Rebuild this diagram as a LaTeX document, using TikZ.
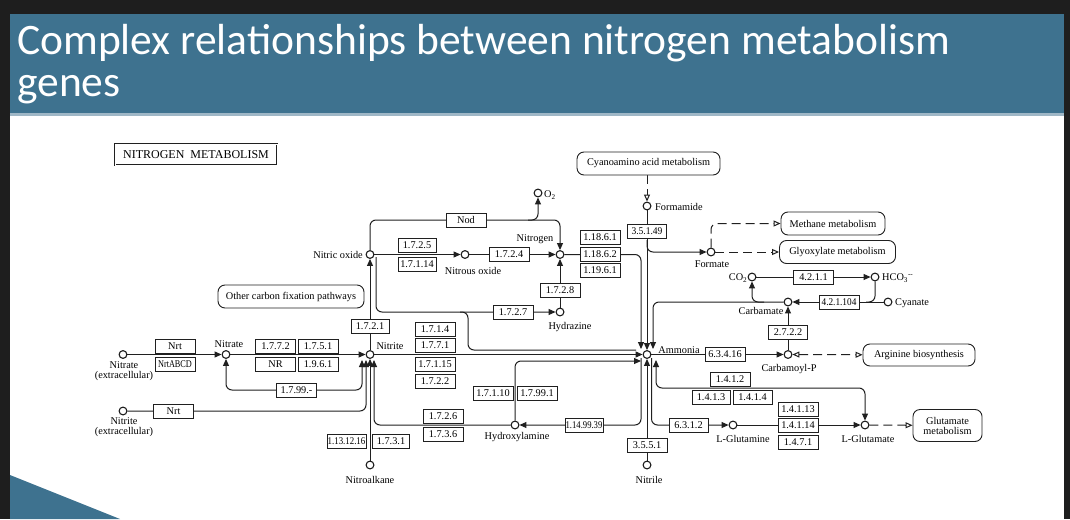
\documentclass[tikz,border=0pt]{standalone}
\usepackage{fontspec}
\usepackage{graphicx}
\usetikzlibrary{arrows.meta}
\newfontfamily\keggfont{Liberation Serif}
\newfontfamily\slidefont{Carlito}
\newcommand\kf{\keggfont\fontsize{10.3}{10.4}\selectfont}
\newcommand\ttlfont{\slidefont\fontsize{43.5}{48}\selectfont}
\definecolor{slidebg}{HTML}{1E1E1E}
\definecolor{titleblue}{HTML}{3E728F}
\definecolor{barline}{HTML}{9FB7C6}
\definecolor{ink}{HTML}{202020}
\pgfdeclarelayer{bg}
\pgfdeclarelayer{lines}
\pgfsetlayers{bg,lines,main}
\tikzset{
 cpd/.style={circle,draw=ink,fill=white,line width=1.1pt,minimum size=7.8pt,inner sep=0pt},
 ec/.style={draw=ink,fill=white,line width=0.85pt,minimum width=40pt,minimum height=14pt,inner sep=0pt,font=\kf},
 mapbox/.style={draw=ink,fill=white,rounded corners=7pt,line width=0.9pt,inner sep=0pt,font=\kf,align=center},
 lbl/.style={font=\kf,inner sep=0pt},
 rx/.style={draw=ink,line width=1pt,rounded corners=6pt},
 arr/.style={-{Triangle[length=7pt,width=6pt]}},
 arrs/.style={{Triangle[length=7pt,width=6pt]}-{Triangle[length=7pt,width=6pt]}},
 oarr/.style={-{Triangle[open,length=7pt,width=6pt]}},
 oarrs/.style={{Triangle[open,length=7pt,width=6pt]}-{Triangle[open,length=7pt,width=6pt]}},
 dsh/.style={dash pattern=on 9pt off 5pt},
}
\begin{document}
\begin{tikzpicture}[x=1pt,y=-1pt]
\useasboundingbox (0,0) rectangle (1070,519);
\begin{pgfonlayer}{bg}
\fill[slidebg] (0,0) rectangle (1070,519);
\fill[white] (10,14) rectangle (1064,519);
\fill[titleblue] (10,14) rectangle (1064,113);
\fill[barline] (10,113) rectangle (1064,115.5);
\fill[titleblue] (10,475) -- (120,519) -- (10,519) -- cycle;
\end{pgfonlayer}
\node[anchor=base west,inner sep=0pt,font=\ttlfont,text=white] (t1) at (17,55) {Complex relationships between nitrogen metabolism};
\node[anchor=base west,inner sep=0pt,font=\ttlfont,text=white] (t2) at (17,96) {genes};

% title box
\node[draw=ink,fill=white,line width=0.8pt,double,double distance=0.7pt,minimum width=162pt,minimum height=21pt,inner sep=0pt,font=\keggfont\fontsize{12}{12}\selectfont] (tbox) at (196,154.5) {NITROGEN\ \ METABOLISM};

% map boxes
\node[mapbox,minimum width=146pt,minimum height=23pt] (ocfp) at (291,296.5) {Other carbon fixation pathways};
\node[mapbox,minimum width=143pt,minimum height=23pt] (cyan) at (648.5,163.5) {Cyanoamino acid metabolism};
\node[mapbox,minimum width=104pt,minimum height=23pt] (meth) at (833,223.5) {Methane metabolism};
\node[mapbox,minimum width=116pt,minimum height=23pt] (glyox) at (837.5,252) {Glyoxylate metabolism};
\node[mapbox,minimum width=112pt,minimum height=22pt] (arg) at (919,355) {Arginine biosynthesis};
\node[mapbox,minimum width=69pt,minimum height=32pt,font=\keggfont\fontsize{10.3}{10}\selectfont] (glum) at (947.5,425.5) {Glutamate\\metabolism};

% compounds
\node[cpd] (nae) at (123,354.5) {};
\node[cpd] (nie) at (123,411) {};
\node[cpd] (na) at (226,354.5) {};
\node[cpd] (ni) at (370,354.5) {};
\node[cpd] (no) at (370,254.5) {};
\node[cpd] (n2o) at (465,254.5) {};
\node[cpd] (o2) at (538,193) {};
\node[cpd] (n2) at (560,254.5) {};
\node[cpd] (hz) at (560,312) {};
\node[cpd] (fmd) at (647,206) {};
\node[cpd] (fmt) at (711,252) {};
\node[cpd] (co2) at (752,277) {};
\node[cpd] (hco3) at (875,277) {};
\node[cpd] (cbm) at (788,302) {};
\node[cpd] (cyn) at (888,302) {};
\node[cpd] (am) at (647,354.5) {};
\node[cpd] (cbp) at (788,354.5) {};
\node[cpd] (hyd) at (515,425) {};
\node[cpd] (gln) at (733,425) {};
\node[cpd] (glu) at (865,425) {};
\node[cpd] (nal) at (370,465) {};
\node[cpd] (ntl) at (647,465) {};

% compound labels
\node[lbl,align=center,anchor=north] (naeL) at (124,361) {Nitrate\\(extracellular)};
\node[lbl,align=center,anchor=north] (nieL) at (124,417.5) {Nitrite\\(extracellular)};
\node[lbl] (naL) at (229,344) {Nitrate};
\node[lbl] (niL) at (390,346.5) {Nitrite};
\node[lbl,anchor=east] (noL) at (363,255) {Nitric oxide};
\node[lbl] (n2oL) at (473,271) {Nitrous oxide};
\node[lbl,anchor=west] (o2L) at (544,195) {O\textsubscript{2}};
\node[lbl] (n2L) at (535,239.5) {Nitrogen};
\node[lbl] (hzL) at (570,327) {Hydrazine};
\node[lbl,anchor=west] (fmdL) at (655,207) {Formamide};
\node[lbl] (fmtL) at (712,264) {Formate};
\node[lbl,anchor=east] (co2L) at (747.5,278) {CO\textsubscript{2}};
\node[lbl,anchor=west] (hco3L) at (882,278) {HCO\textsubscript{3}\textsuperscript{--}};
\node[lbl] (cbmL) at (761,311) {Carbamate};
\node[lbl,anchor=west] (cynL) at (895,303) {Cyanate};
\node[lbl] (amL) at (679,350) {Ammonia};
\node[lbl] (cbpL) at (789,369.5) {Carbamoyl-P};
\node[lbl] (hydL) at (517,437.5) {Hydroxylamine};
\node[lbl] (glnL) at (743,438.5) {L-Glutamine};
\node[lbl] (gluL) at (868,438.5) {L-Glutamate};
\node[lbl] (nalL) at (370,479.5) {Nitroalkane};
\node[lbl] (ntlL) at (649,479.5) {Nitrile};

% gene boxes
\node[ec] (nrtA) at (175,346.5) {Nrt};
\node[ec] (nrtB) at (175,364.5) {\scalebox{0.8}[1]{NrtABCD}};
\node[ec] (nrtC) at (173.5,411) {Nrt};
\node[ec] (e1772) at (275.5,346.5) {1.7.7.2};
\node[ec] (e1751) at (318,346.5) {1.7.5.1};
\node[ec] (enr) at (275.5,364.5) {NR};
\node[ec] (e1961) at (318,364.5) {1.9.6.1};
\node[ec] (e1799) at (296.5,390) {1.7.99.-};
\node[ec,minimum width=38pt] (e1721) at (370,326.5) {1.7.2.1};
\node[ec] (e1714) at (435,329.5) {1.7.1.4};
\node[ec] (e1771) at (435,345.5) {1.7.7.1};
\node[ec] (e17115) at (435,364.5) {1.7.1.15};
\node[ec] (e1722) at (435,381.5) {1.7.2.2};
\node[ec] (e1726) at (443,416) {1.7.2.6};
\node[ec] (e1736) at (443,434.5) {1.7.3.6};
\node[ec,minimum width=39pt] (e131216) at (346.5,441.5) {\scalebox{0.86}[1]{1.13.12.16}};
\node[ec,minimum width=37pt] (e1731) at (391,441.5) {1.7.3.1};
\node[ec] (e17110) at (493,393.5) {1.7.1.10};
\node[ec] (e17991) at (537,393.5) {1.7.99.1};
\node[ec,minimum width=38pt] (e149939) at (584,425) {\scalebox{0.84}[1]{1.14.99.39}};
\node[ec] (e3551) at (647,445.5) {3.5.5.1};
\node[ec] (nod) at (466,220) {Nod};
\node[ec,minimum width=38pt] (e1725) at (417,245.5) {1.7.2.5};
\node[ec,minimum width=38pt] (e17114) at (417,264) {1.7.1.14};
\node[ec] (e1724) at (509,254.5) {1.7.2.4};
\node[ec] (e11861) at (600,237) {1.18.6.1};
\node[ec] (e11862) at (600,254.5) {1.18.6.2};
\node[ec] (e11961) at (600,270.5) {1.19.6.1};
\node[ec] (e1728) at (560,290) {1.7.2.8};
\node[ec] (e1727) at (513,312) {1.7.2.7};
\node[ec,minimum width=39pt] (e35149) at (647,231.5) {\scalebox{0.92}[1]{3.5.1.49}};
\node[ec] (e4211) at (813.5,277) {4.2.1.1};
\node[ec] (e421104) at (839,302) {\scalebox{0.9}[1]{4.2.1.104}};
\node[ec,minimum width=39pt] (e2722) at (788,332) {2.7.2.2};
\node[ec] (e63416) at (725,354.5) {6.3.4.16};
\node[ec] (e1412) at (730,379) {1.4.1.2};
\node[ec,minimum width=38pt] (e1413) at (711,397) {1.4.1.3};
\node[ec,minimum width=39pt] (e1414) at (752.5,397) {1.4.1.4};
\node[ec,minimum width=39pt] (e6312) at (688.5,425) {6.3.1.2};
\node[ec] (e14113) at (798,409.5) {1.4.1.13};
\node[ec] (e14114) at (798,425.5) {1.4.1.14};
\node[ec] (e1471) at (798,442.5) {1.4.7.1};

% helper coordinates
\coordinate (niB1) at (362,360);
\coordinate (niB2) at (366,360);
\coordinate (niB4) at (374,360);
\coordinate (noR) at (376,257);
\coordinate (hzj) at (460,312);
\coordinate (o2j) at (528,220);
\coordinate (amT1) at (641,349);
\coordinate (amT3) at (653,349);
\coordinate (amL0) at (636,350);
\coordinate (amL2) at (641,361);
\coordinate (amB1) at (641,358);
\coordinate (amB3) at (651.5,358);
\coordinate (amB4) at (656,360);
\coordinate (fmdj) at (647,240);
\coordinate (cbmj) at (764,302);
\coordinate (cynj) at (866,302);

\begin{pgfonlayer}{lines}
\draw[rx,arr] (nae) -- (na);
\draw[rx,arr] (na) -- (ni);
\draw[rx,arrs] (na) -- (226,390) -- (362,390) -- (niB1);
\draw[rx,arr] (nie) -- (366,411) -- (niB2);
\draw[rx,arr] (nal) -- (ni);
\draw[rx,arr] (hyd) -- (374,425) -- (niB4);
\draw[rx,arr] (ni) -- (no);
\draw[rx,arr] (no) -- (n2o);
\draw[rx,arr] (n2o) -- (n2);
\draw[rx,arr] (no) -- (370,220) -- (560,220) -- (n2);
\draw[rx,arr] (o2j) -- (538,220) -- (o2);
\draw[rx,arr] (noR) -- (376,312) -- (hz);
\draw[rx] (hzj) -- (468,312) -- (468,350) -- (amL0);
\draw[rx,arr] (hz) -- (n2);
\draw[rx,arr] (n2) -- (641,254.5) -- (amT1);
\draw[rx,dsh,oarr] (fmd |- cyan.south) -- (fmd);
\draw[rx,arr] (fmd) -- (am);
\draw[rx,arr] (fmdj) -- (647,252) -- (fmt);
\draw[rx,dsh,oarr] (fmt) -- (711,223.5) -- (meth);
\draw[rx,dsh,oarr] (fmt) -- (glyox);
\draw[rx,arr] (cbm) -- (653,302) -- (amT3);
\draw[rx,arr] (cbmj) -- (752,302) -- (co2);
\draw[rx,arr] (co2) -- (hco3);
\draw[rx,arr] (cyn) -- (cbm);
\draw[rx] (hco3) -- (875,302) -- (cynj);
\draw[rx,arr] (cbp) -- (cbm);
\draw[rx,arr] (am) -- (cbp);
\draw[rx,dsh,oarrs] (cbp) -- (arg);
\draw[rx,arr] (ni) -- (am);
\draw[rx,arr] (hyd) -- (515,361) -- (amL2);
\draw[rx,arr] (amB1) -- (641,425) -- (hyd);
\draw[rx,arr] (ntl) -- (am);
\draw[rx,arr] (amB3) -- (651.5,425) -- (gln);
\draw[rx,arrs] (glu) -- (865,388) -- (656,388) -- (amB4);
\draw[rx,arr] (gln) -- (glu);
\draw[rx,dsh,oarr] (glu) -- (glum);
\end{pgfonlayer}
\end{tikzpicture}
\end{document}
